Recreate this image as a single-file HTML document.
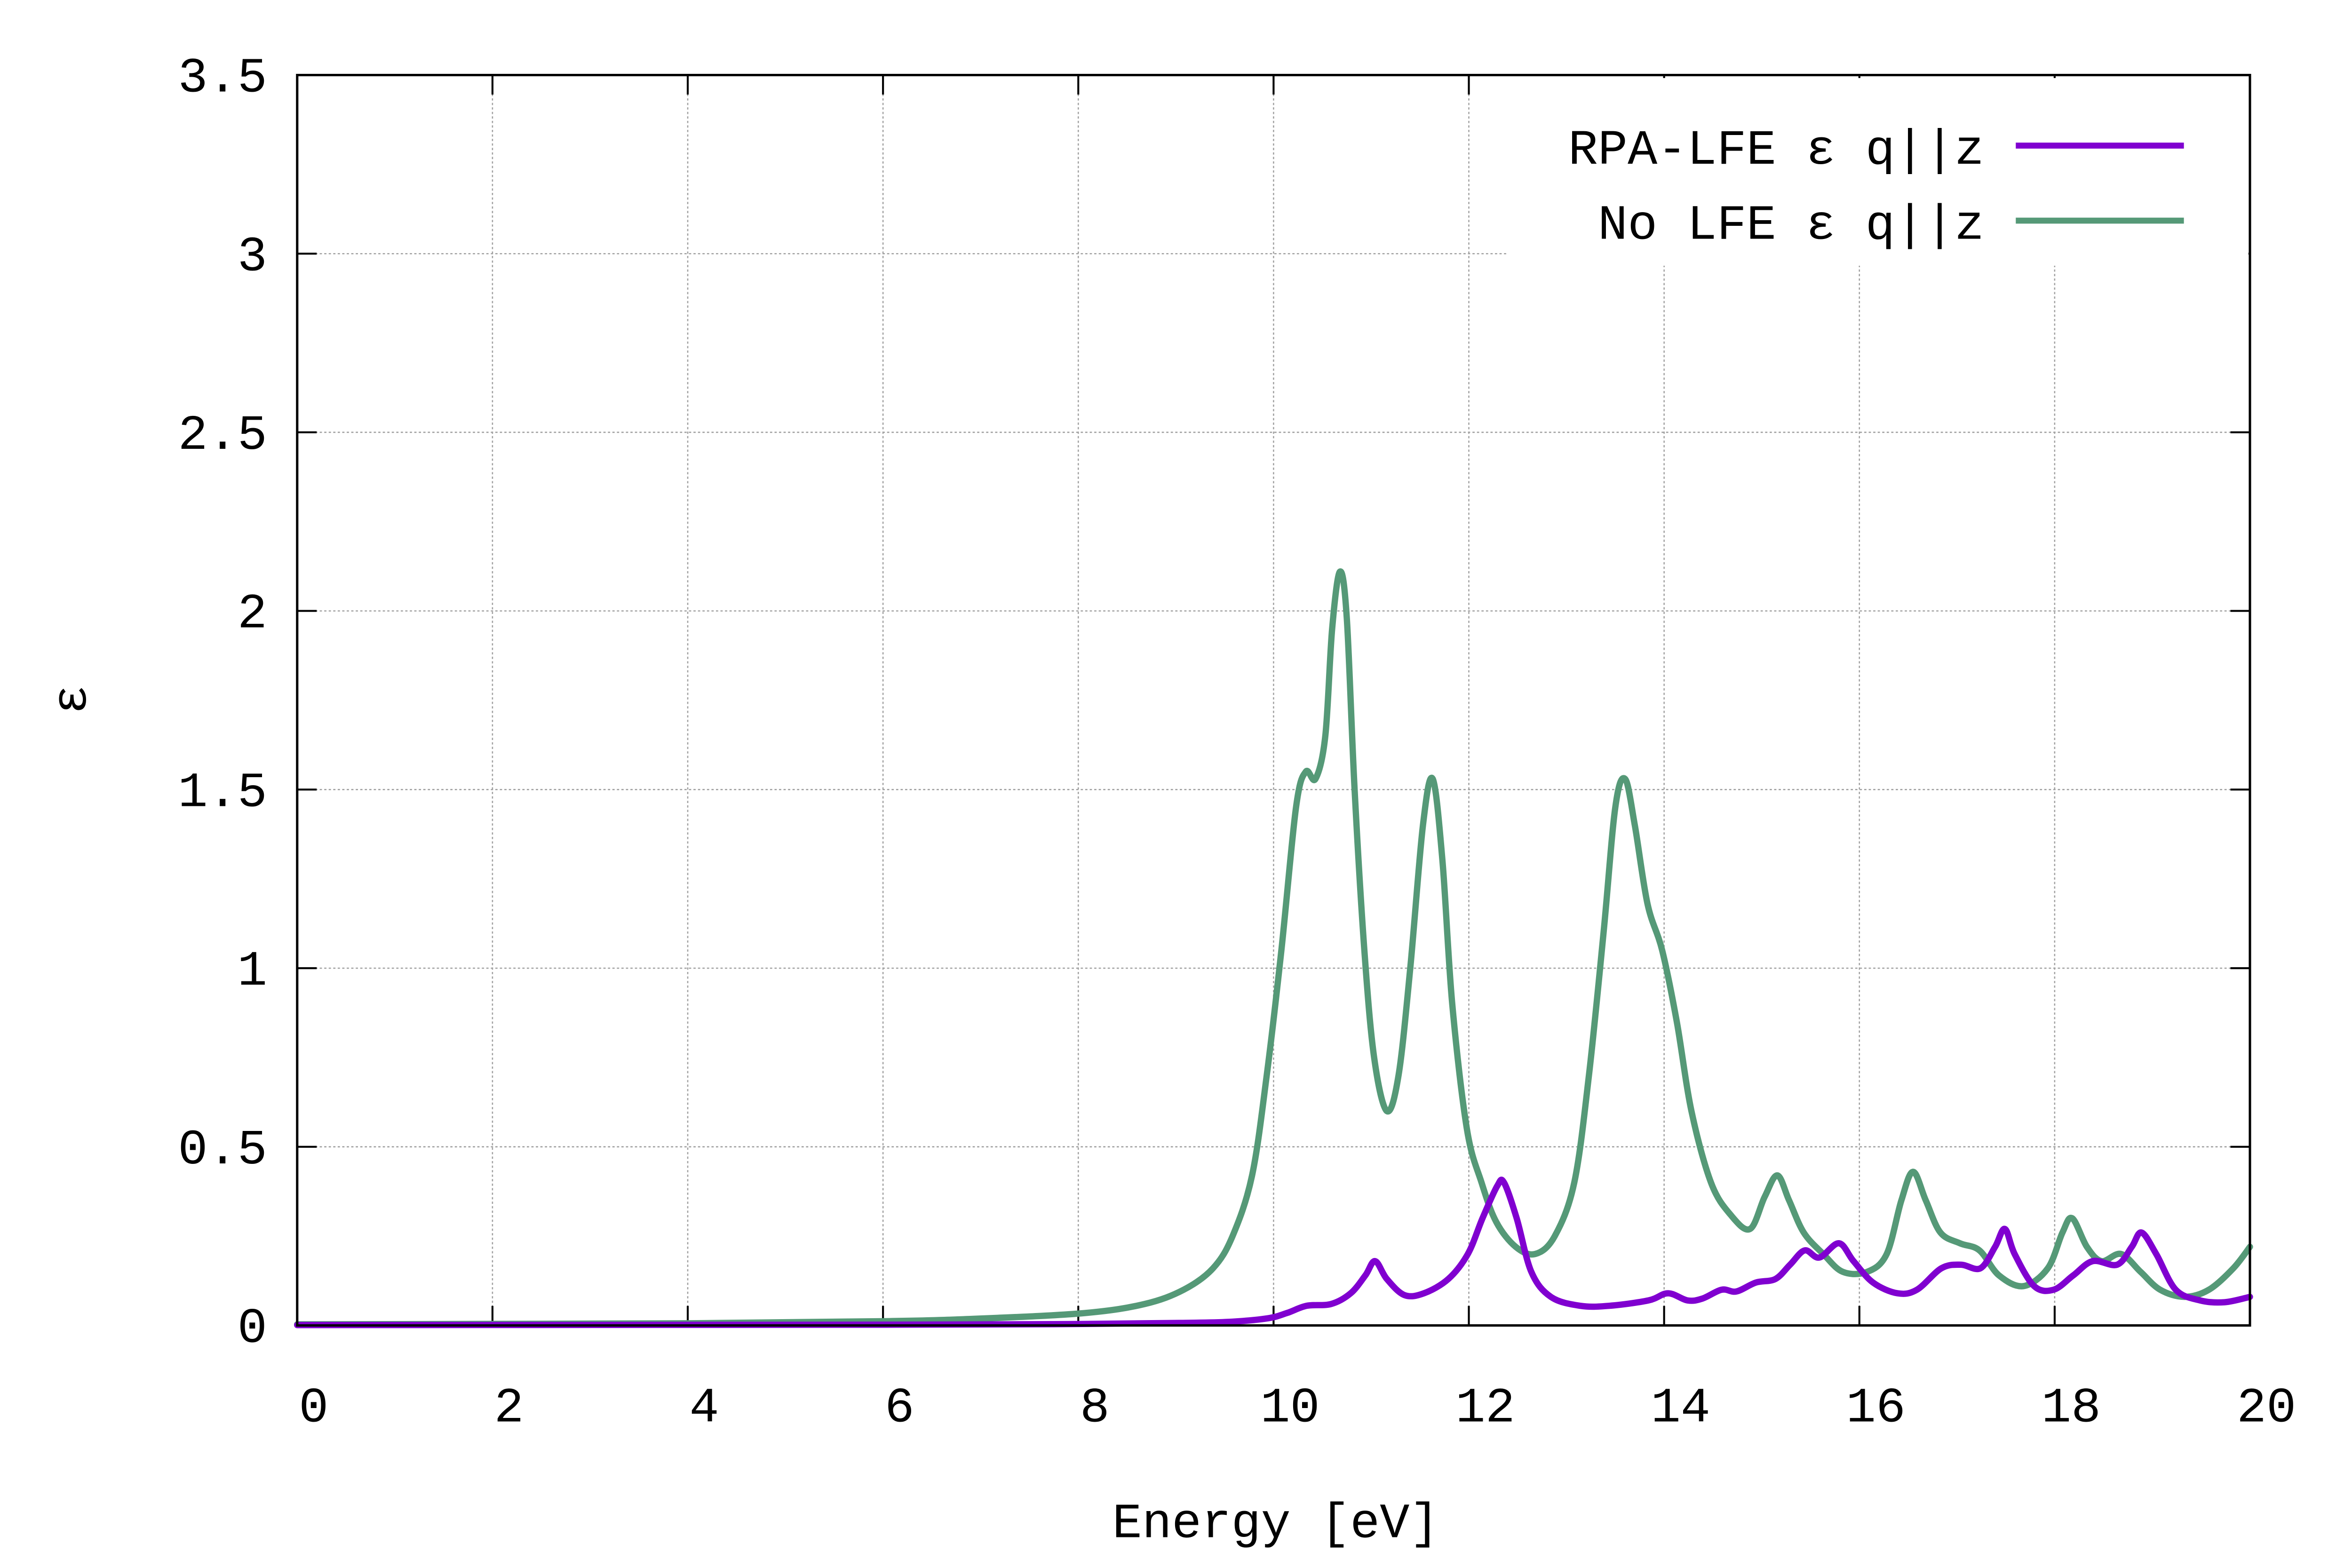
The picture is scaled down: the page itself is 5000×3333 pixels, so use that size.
<!DOCTYPE html>
<html><head><meta charset="utf-8"><style>
html,body{margin:0;padding:0;background:#fff;}
svg{display:block;}
text{font-family:"Liberation Mono","DejaVu Sans Mono",monospace;fill:#000;}
</style></head><body>
<svg id="s" width="5000" height="3333" viewBox="0 0 1567 1044.6" preserveAspectRatio="none" xmlns="http://www.w3.org/2000/svg">
<rect width="1567" height="1045" fill="#fff"/>
<g id="grid" stroke="#a0a0a0" stroke-width="0.8" stroke-dasharray="1.5,1.5"></g>
<g id="ticks" stroke="#000" stroke-width="1.3"></g>
<g id="labels" font-size="33"></g>
<rect x="1004" y="52" width="494" height="125" fill="#fff"/>
<g id="curves" fill="none" stroke-width="4.2" stroke-linejoin="round" stroke-linecap="round"></g>
<rect x="198" y="50" width="1301" height="833" fill="none" stroke="#000" stroke-width="1.6"/>
<text x="1322" y="109" font-size="33" text-anchor="end">RPA-LFE ε q||z</text>
<text x="1322" y="159" font-size="33" text-anchor="end">No LFE ε q||z</text>
<line x1="1343" y1="97" x2="1455" y2="97" stroke="#8000d0" stroke-width="4"/>
<line x1="1343" y1="147" x2="1455" y2="147" stroke="#559977" stroke-width="4"/>
<text x="850" y="1024" font-size="33" text-anchor="middle">Energy [eV]</text>
<text transform="translate(57,466) rotate(-90)" font-size="33" text-anchor="middle">ε</text>
</svg>
<script>
const NS="http://www.w3.org/2000/svg";
const X=v=>198+v*65.05, Y=v=>883-v*238;
function el(p,t,a,txt){const e=document.createElementNS(NS,t);for(const k in a)e.setAttribute(k,a[k]);if(txt!==undefined)e.textContent=txt;document.getElementById(p).appendChild(e);}
for(let i=1;i<10;i++){el("grid","line",{x1:X(2*i),x2:X(2*i),y1:Y(0),y2:Y(3.5)});}
for(let i=1;i<7;i++){const y=Y(i*0.5);el("grid","line",{x1:198,x2:i==6?1004:1499,y1:y,y2:y});}
for(let i=0;i<=10;i++){const x=X(2*i);el("ticks","line",{x1:x,x2:x,y1:883,y2:870});el("ticks","line",{x1:x,x2:x,y1:50,y2:63});
 el("labels","text",{x:x+11,y:947,"text-anchor":"middle"},String(2*i));}
for(let i=0;i<=7;i++){const y=Y(i*0.5);el("ticks","line",{x1:198,x2:211,y1:y,y2:y});el("ticks","line",{x1:1499,x2:1486,y1:y,y2:y});
 el("labels","text",{x:178,y:y+11,"text-anchor":"end"},String(i*0.5));}
const G=[[0,0.003],[4,0.006],[6,0.012],[7,0.02],[8,0.035],[8.6,0.06],[9,0.1],[9.3,0.16],[9.5,0.25],[9.7,0.42],[9.85,0.7],[10,1.05],[10.15,1.45],[10.25,1.55],[10.35,1.53],[10.45,1.65],[10.52,1.95],[10.6,2.11],[10.67,1.98],[10.75,1.5],[10.85,1.05],[10.95,0.75],[11.08,0.6],[11.2,0.7],[11.32,1.0],[11.45,1.4],[11.55,1.53],[11.65,1.3],[11.75,0.9],[11.9,0.55],[12.05,0.4],[12.2,0.29],[12.4,0.22],[12.6,0.2],[12.8,0.25],[13.0,0.4],[13.15,0.7],[13.3,1.1],[13.42,1.45],[13.52,1.53],[13.62,1.4],[13.75,1.18],[13.9,1.05],[14.05,0.85],[14.2,0.6],[14.4,0.4],[14.6,0.31],[14.8,0.27],[14.95,0.36],[15.08,0.42],[15.2,0.35],[15.35,0.26],[15.55,0.2],[15.75,0.15],[16.0,0.15],[16.2,0.2],[16.35,0.35],[16.47,0.43],[16.6,0.35],[16.75,0.26],[16.95,0.23],[17.15,0.21],[17.35,0.14],[17.6,0.11],[17.85,0.16],[18.0,0.26],[18.1,0.3],[18.25,0.22],[18.4,0.18],[18.6,0.2],[18.8,0.15],[19.0,0.1],[19.25,0.08],[19.5,0.1],[19.75,0.16],[20,0.22]];
const P=[[0,0.001],[6,0.002],[8,0.004],[9,0.007],[9.5,0.01],[9.9,0.02],[10.1,0.035],[10.3,0.055],[10.55,0.06],[10.75,0.09],[10.9,0.14],[11.0,0.18],[11.12,0.13],[11.3,0.085],[11.5,0.09],[11.75,0.13],[11.95,0.2],[12.1,0.3],[12.25,0.39],[12.32,0.4],[12.45,0.3],[12.6,0.15],[12.8,0.08],[13.1,0.055],[13.4,0.055],[13.8,0.07],[14.0,0.09],[14.2,0.07],[14.35,0.075],[14.55,0.1],[14.7,0.095],[14.9,0.12],[15.1,0.13],[15.25,0.17],[15.4,0.21],[15.55,0.19],[15.75,0.23],[15.9,0.18],[16.1,0.12],[16.35,0.09],[16.55,0.1],[16.8,0.16],[17.0,0.17],[17.2,0.16],[17.35,0.22],[17.45,0.27],[17.55,0.2],[17.75,0.11],[17.95,0.1],[18.15,0.14],[18.35,0.18],[18.6,0.17],[18.75,0.22],[18.85,0.26],[19.0,0.2],[19.2,0.1],[19.45,0.07],[19.7,0.065],[20,0.08]];
function sh(v,o){return Math.min(20,v+(v>8?o:v/8*o));}
function path(pts,o){const p=pts.map(a=>[X(sh(a[0],o)),Y(a[1])]);let d="M"+p[0][0]+","+p[0][1];
 for(let i=0;i<p.length-1;i++){const p0=p[Math.max(0,i-1)],p1=p[i],p2=p[i+1],p3=p[Math.min(p.length-1,i+2)];
 const c1=[p1[0]+(p2[0]-p0[0])/6,p1[1]+(p2[1]-p0[1])/6],c2=[p2[0]-(p3[0]-p1[0])/6,p2[1]-(p3[1]-p1[1])/6];
 d+=` C${c1[0]},${Math.min(c1[1],883)} ${c2[0]},${Math.min(c2[1],883)} ${p2[0]},${p2[1]}`;}return d;}
el("curves","path",{d:path(G,0.08),stroke:"#559977"});
el("curves","path",{d:path(P,0.04),stroke:"#8000d0"});
</script>
</body></html>
